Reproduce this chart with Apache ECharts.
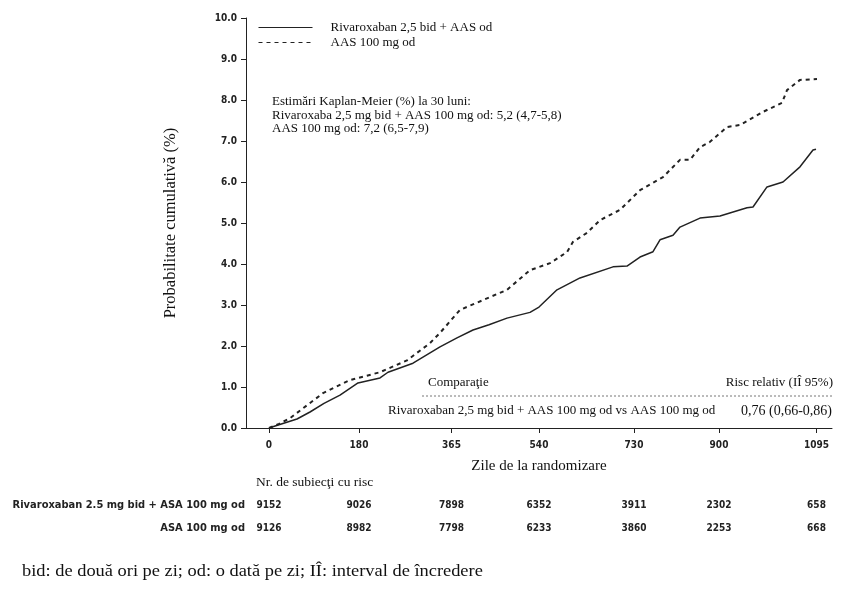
<!DOCTYPE html>
<html>
<head>
<meta charset="utf-8">
<script src="https://cdn.jsdelivr.net/npm/echarts@6/dist/echarts.min.js"></script>
<style>html,body{margin:0;padding:0;background:#fff}#c{width:852px;height:589px}</style>
</head>
<body>
<div id="c"></div>
<script>
// ---- data ----
const xTicks = [0, 180, 365, 540, 730, 900, 1095];
const seriesNames = ['Rivaroxaban 2,5 bid + AAS od', 'AAS 100 mg od'];
const rivaDays = [0, 20, 56, 82, 110, 142, 178, 222, 238, 288, 342, 376, 408, 440, 476, 522, 540, 576, 622, 688, 716, 742, 768, 782, 808, 822, 862, 902, 956, 968, 996, 1028, 1062, 1088, 1094];
const rivaVals = [0, 0.08, 0.22, 0.39, 0.6, 0.8, 1.1, 1.22, 1.36, 1.58, 1.98, 2.2, 2.39, 2.52, 2.68, 2.82, 2.95, 3.37, 3.66, 3.93, 3.95, 4.17, 4.3, 4.59, 4.7, 4.9, 5.12, 5.17, 5.37, 5.39, 5.88, 6.0, 6.37, 6.78, 6.8];
const aasDays = [0, 20, 42, 108, 162, 222, 276, 322, 342, 382, 428, 476, 522, 562, 596, 608, 636, 662, 702, 742, 788, 822, 842, 862, 882, 916, 942, 988, 1026, 1036, 1062, 1096];
const aasVals = [0, 0.1, 0.24, 0.85, 1.17, 1.36, 1.65, 2.07, 2.32, 2.88, 3.12, 3.37, 3.85, 4.02, 4.29, 4.54, 4.76, 5.07, 5.32, 5.8, 6.12, 6.54, 6.54, 6.85, 6.98, 7.34, 7.39, 7.71, 7.93, 8.24, 8.49, 8.51];
const riskRowLabels = ['Rivaroxaban 2.5 mg bid + ASA 100 mg od', 'ASA 100 mg od'];
const riskRiva = [9152, 9026, 7898, 6352, 3911, 2302, 658];
const riskAas = [9126, 8982, 7798, 6233, 3860, 2253, 668];
const kmLines = ['Estimări Kaplan-Meier (%) la 30 luni:', 'Rivaroxaba 2,5 mg bid + AAS 100 mg od: 5,2 (4,7-5,8)', 'AAS 100 mg od: 7,2 (6,5-7,9)'];
const compHeader = ['Comparaţie', 'Risc relativ (IÎ 95%)'];
const compRow = ['Rivaroxaban 2,5 mg bid + AAS 100 mg od vs AAS 100 mg od', '0,76 (0,66-0,86)'];
const footnote = 'bid: de două ori pe zi; od: o dată pe zi; IÎ: interval de încredere';

const SERIF = '"Liberation Serif", "DejaVu Serif", serif';
const SANS = '"Liberation Sans Narrow", "DejaVu Sans Condensed", "Liberation Sans", sans-serif';

const chart = echarts.init(document.getElementById('c'), null, {renderer: 'canvas'});
const zip = (a, b) => a.map((d, i) => [d, b[i]]);

const option = {
  backgroundColor: '#fff',
  animation: false,
  grid: {left: 246, right: 20, top: 18, bottom: 161, containLabel: false},
  legend: {
    orient: 'vertical', left: 258, top: 21, padding: 0,
    itemWidth: 54, itemHeight: 10, itemGap: 2,
    lineStyle: {width: 1},
    itemStyle: {opacity: 0},
    textStyle: {fontFamily: SERIF, fontSize: 13, lineHeight: 11, color: '#111', padding: [0, 0, 0, 13]},
    data: seriesNames
  },
  xAxis: {
    type: 'value', min: -46, max: 1126,
    name: 'Zile de la randomizare', nameLocation: 'middle', nameGap: 31,
    nameTextStyle: {fontFamily: SERIF, fontSize: 15, color: '#111'},
    axisLine: {show: true, onZero: false, lineStyle: {color: '#222', width: 1}},
    axisTick: {show: true, length: 5, customValues: xTicks, lineStyle: {color: '#222'}},
    axisLabel: {customValues: xTicks, margin: 12, fontFamily: SANS, fontWeight: 'bold', fontSize: 10, color: '#222', formatter: v => String(v)},
    splitLine: {show: false}
  },
  yAxis: {
    type: 'value', min: 0, max: 10, interval: 1,
    name: 'Probabilitate cumulativă (%)', nameLocation: 'middle', nameGap: 67,
    nameTextStyle: {fontFamily: SERIF, fontSize: 16.5, color: '#111'},
    axisLine: {show: true, onZero: false, lineStyle: {color: '#222', width: 1}},
    axisTick: {show: true, length: 5, lineStyle: {color: '#222'}},
    axisLabel: {margin: 9, fontFamily: SANS, fontWeight: 'bold', fontSize: 10, color: '#222', formatter: v => v.toFixed(1)},
    splitLine: {show: false}
  },
  series: [
    {name: seriesNames[0], type: 'line', data: zip(rivaDays, rivaVals), symbol: 'none', smooth: false,
     lineStyle: {color: '#222', width: 1.5, type: 'solid'}, itemStyle: {color: '#222'}},
    {name: seriesNames[1], type: 'line', data: zip(aasDays, aasVals), symbol: 'none', smooth: false,
     lineStyle: {color: '#222', width: 2, type: [4, 4]}, itemStyle: {color: '#222'}}
  ]
};
chart.setOption(option);

// graphics
const g = [];
const txt = (x, y, text, opts) => g.push({type: 'text', x: x, y: y, style: Object.assign({text: text, fill: '#111', font: '13px ' + SERIF, textVerticalAlign: 'middle'}, opts || {})});
kmLines.forEach((t, i) => txt(272, 102 + i * 13.5, t, {font: '13px ' + SERIF}));
txt(428, 383, compHeader[0]);
txt(833, 383, compHeader[1], {textAlign: 'right'});
g.push({type: 'line', shape: {x1: 422, y1: 396, x2: 832, y2: 396}, style: {stroke: '#777', lineWidth: 1, lineDash: [2, 2]}});
txt(388, 411, compRow[0]);
txt(741, 411, compRow[1], {font: '14px ' + SERIF});
txt(256, 482, 'Nr. de subiecţi cu risc', {font: '13.5px ' + SERIF});
const rows = [riskRiva, riskAas];
const rowsY = [505, 528];
riskRowLabels.forEach((lab, r) => {
  txt(245, rowsY[r], lab, {textAlign: 'right', font: 'bold 11px ' + SANS, fill: '#222'});
  rows[r].forEach((v, i) => {
    const px = chart.convertToPixel({xAxisIndex: 0}, xTicks[i]);
    txt(px, rowsY[r], String(v), {textAlign: 'center', font: 'bold 10px ' + SANS, fill: '#222'});
  });
});
g.push({type: 'text', x: 22, y: 572, scaleX: 1.15, style: {text: footnote, fill: '#111', font: '16px ' + SERIF, textVerticalAlign: 'middle'}});
chart.setOption({graphic: g});
</script>
</body>
</html>
